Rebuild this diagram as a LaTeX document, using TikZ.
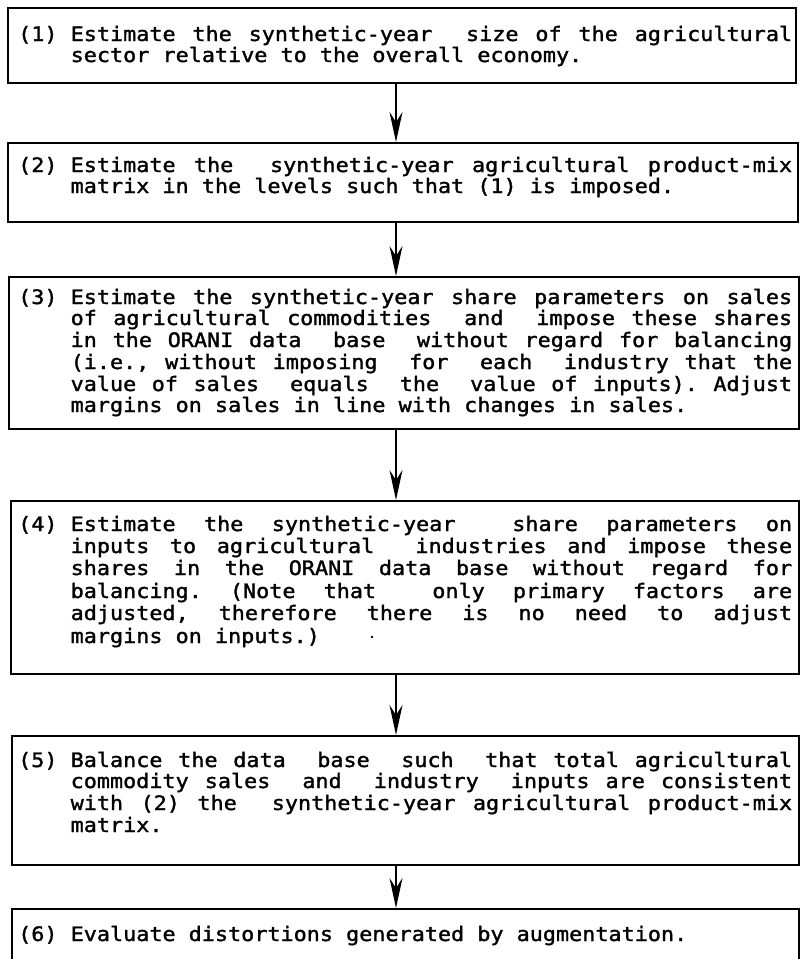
\documentclass[tikz,border=0pt]{standalone}
\usepackage{fontspec}
\newfontfamily\pfont{DejaVu Sans Mono}[FakeStretch=1.095,FakeBold=1.5]
\usetikzlibrary{arrows.meta}
\newcommand\cw{\fontcharwd\font`0}
\newcommand\jl[2]{\hbox to 774pt{\hbox to 4\cw{#1\hfil}\spaceskip=\cw plus 1fil\relax #2}}
\newcommand\jc[1]{\hbox to 774pt{\hskip 4\cw\spaceskip=\cw plus 1fil\relax #1}}
\newcommand\nl[2]{\hbox{\hbox to 4\cw{#1\hfil}\spaceskip=\cw\relax #2}}
\newcommand\nc[1]{\hbox{\hskip 4\cw\spaceskip=\cw\relax #1}}
\tikzset{
  boxstyle/.style={draw, line width=1.8pt, inner sep=0pt, anchor=north west},
  txt/.style={inner sep=0pt, anchor=base west, font=\pfont\fontsize{19.9}{21.8}\selectfont\frenchspacing},
  arr/.style={line width=1.8pt, -{Stealth[length=30pt,width=13pt,inset=10pt]}}
}
\begin{document}
\begin{tikzpicture}[x=1pt,y=-1pt]
\useasboundingbox (0,0) rectangle (801,959);
\fill[white] (0,0) rectangle (801,959);
% boxes
\node[boxstyle, minimum width=788pt, minimum height=75pt] (b1) at (7,7) {};
\node[boxstyle, minimum width=790pt, minimum height=79pt] (b2) at (7,142) {};
\node[boxstyle, minimum width=790pt, minimum height=152pt] (b3) at (8,276) {};
\node[boxstyle, minimum width=788pt, minimum height=173pt] (b4) at (10,500) {};
\node[boxstyle, minimum width=787pt, minimum height=129pt] (b5) at (11,735) {};
\node[boxstyle, minimum width=787pt, minimum height=90pt] (b6) at (11,908) {};
\coordinate (ax) at (396,0);
% arrows
\draw[arr] (b1.south -| ax) -- (b2.north -| ax);
\draw[arr] (b2.south -| ax) -- (b3.north -| ax);
\draw[arr] (b3.south -| ax) -- (b4.north -| ax);
\draw[arr] (b4.south -| ax) -- (b5.north -| ax);
\draw[arr] (b5.south -| ax) -- (b6.north -| ax);
% box 1
\node[txt] (t1a) at (18,41) {\jl{(1)}{Estimate the synthetic-year\ \ size of the agricultural}};
\node[txt] (t1b) at (18,62) {\nc{sector relative to the overall economy.}};
% box 2
\node[txt] (t2a) at (18,172) {\jl{(2)}{Estimate the\ \ synthetic-year agricultural product-mix}};
\node[txt] (t2b) at (18,193) {\nc{matrix in the levels such that (1) is imposed.}};
% box 3
\node[txt] (t3a) at (18,304) {\jl{(3)}{Estimate the synthetic-year share parameters on sales}};
\node[txt] (t3b) at (18,325) {\jc{of agricultural commodities\ \ and\ \ impose these shares}};
\node[txt] (t3c) at (18,347) {\jc{in the ORANI data\ \ base\ \ without regard for balancing}};
\node[txt] (t3d) at (18,369) {\jc{(i.e., without imposing\ \ for\ \ each\ \ industry that the}};
\node[txt] (t3e) at (18,391) {\jc{value of sales\ \ equals\ \ the\ \ value of inputs). Adjust}};
\node[txt] (t3f) at (18,412) {\nc{margins on sales in line with changes in sales.}};
% box 4
\node[txt] (t4a) at (18,531) {\jl{(4)}{Estimate the synthetic-year\ \ share parameters on}};
\node[txt] (t4b) at (18,553) {\jc{inputs to agricultural\ \ industries and impose these}};
\node[txt] (t4c) at (18,575) {\jc{shares in the ORANI data base without regard for}};
\node[txt] (t4d) at (18,598) {\jc{balancing. (Note that\ \ only primary factors are}};
\node[txt] (t4e) at (18,620) {\jc{adjusted, therefore there is no need to adjust}};
\node[txt] (t4f) at (18,643) {\nc{margins on inputs.)}};
\fill (372,637) circle (1.4pt);
% box 5
\node[txt] (t5a) at (18,767) {\jl{(5)}{Balance the data\ \ base\ \ such\ \ that total agricultural}};
\node[txt] (t5b) at (18,788) {\jc{commodity sales\ \ and\ \ industry\ \ inputs are consistent}};
\node[txt] (t5c) at (18,810) {\jc{with (2) the\ \ synthetic-year agricultural product-mix}};
\node[txt] (t5d) at (18,832) {\nc{matrix.}};
% box 6
\node[txt] (t6a) at (18,941) {\nl{(6)}{Evaluate distortions generated by augmentation.}};
\end{tikzpicture}
\end{document}
